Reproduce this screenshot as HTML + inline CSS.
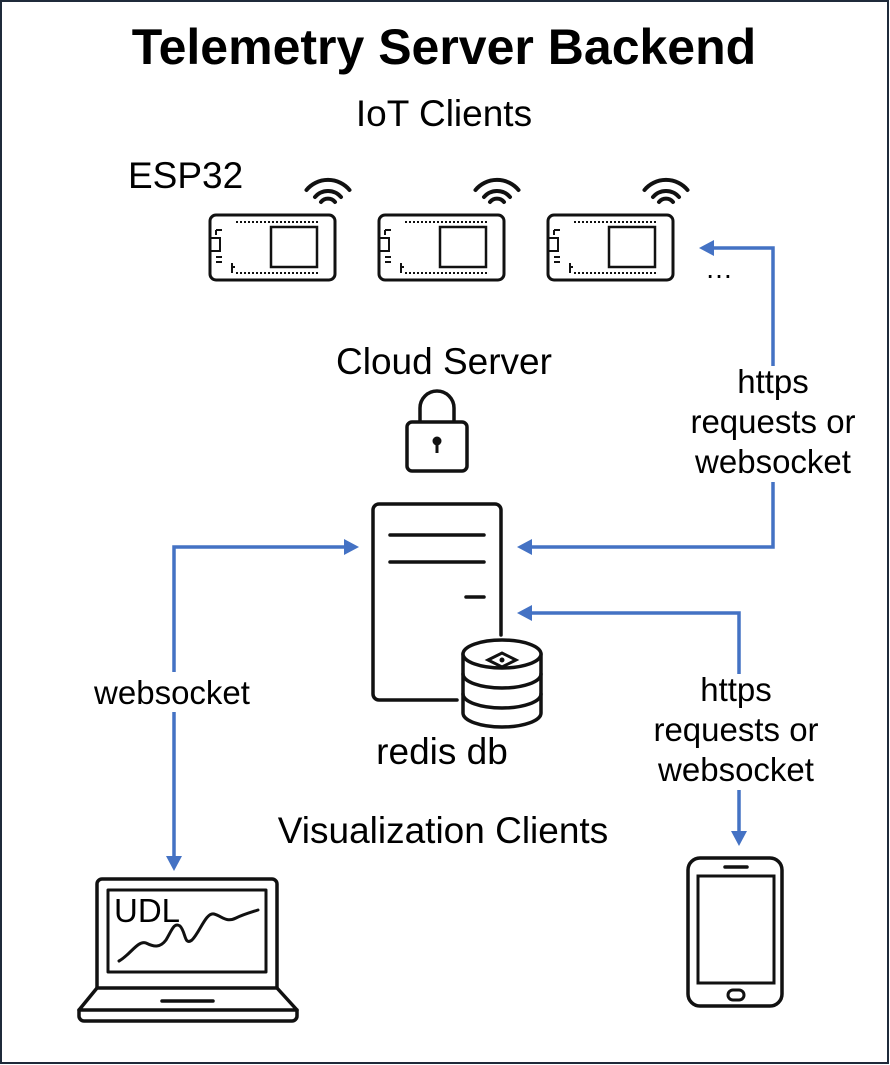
<!DOCTYPE html>
<html><head><style>
html,body{margin:0;padding:0;background:#fff;}
svg{display:block;}
text{font-family:"Liberation Sans",Arial,sans-serif;fill:#000;}
</style></head><body>
<svg width="890" height="1065" viewBox="0 0 890 1065" xmlns="http://www.w3.org/2000/svg">
<rect x="1" y="1" width="887" height="1062" fill="#fff" stroke="#1f2a3a" stroke-width="2"/>
<text x="444" y="64" font-size="50" font-weight="bold" text-anchor="middle">Telemetry Server Backend</text>
<text x="444" y="126" font-size="37" text-anchor="middle">IoT Clients</text>
<text x="128" y="188" font-size="37">ESP32</text>

<defs>
<g id="board" fill="none" stroke="#111" stroke-width="3">
<rect x="0" y="0" width="125" height="65" rx="6"/>
<rect x="61" y="12" width="46" height="40" stroke-width="2.5"/>
<line x1="26" y1="7" x2="108" y2="7" stroke-width="2" stroke-dasharray="2,2"/>
<line x1="26" y1="58" x2="108" y2="58" stroke-width="2" stroke-dasharray="2,2"/>
<rect x="0" y="23" width="10" height="13" stroke-width="2"/>
<path d="M6 15 h6 M6 15 v5 M6 42 h6 M6 47 h6" stroke-width="2"/>
<path d="M22 48 v10 M22 52 h3" stroke-width="2"/>
<g transform="translate(118,-7)" stroke-width="4" stroke-linecap="round">
<path d="M-21.5 -18 A28 28 0 0 1 21.5 -18"/>
<path d="M-13 -11 A17 17 0 0 1 13 -11"/>
<path d="M-7 -6 A9 9 0 0 1 7 -6"/>
</g>
</g>
</defs>
<use href="#board" x="210" y="215"/>
<use href="#board" x="379" y="215"/>
<use href="#board" x="548" y="215"/>
<text x="705" y="278" font-size="28">…</text>

<text x="444" y="374" font-size="37" text-anchor="middle">Cloud Server</text>
<!-- lock -->
<g fill="none" stroke="#111" stroke-width="3.5">
<path d="M420 422 V408 A17 17 0 0 1 454 408 V422"/>
<rect x="407" y="422" width="60" height="49" rx="5"/>
</g>
<circle cx="437" cy="441" r="4.5" fill="#111"/>
<rect x="435.5" y="441" width="3" height="12" fill="#111"/>

<!-- server -->
<g fill="none" stroke="#111" stroke-width="3.5" stroke-linecap="round">
<path d="M457 700 H379 a6 6 0 0 1 -6 -6 V510 a6 6 0 0 1 6 -6 H495 a6 6 0 0 1 6 6 V635"/>
<line x1="390" y1="535" x2="484" y2="535"/>
<line x1="390" y1="562" x2="484" y2="562"/>
<line x1="466" y1="597" x2="484" y2="597"/>
<path d="M463 654 V713 A39 14 0 0 0 541 713 V654"/>
<ellipse cx="502" cy="654" rx="39" ry="14" fill="#fff"/>
<path d="M463 674 A39 14 0 0 0 541 674"/>
<path d="M463 694 A39 14 0 0 0 541 694"/>
<path d="M488 660 L502 653 L516 660 L502 667 Z" stroke-width="3"/>
</g>
<circle cx="502" cy="660" r="2.5" fill="#111"/>
<text x="442" y="764" font-size="37" text-anchor="middle">redis db</text>

<!-- arrows -->
<g fill="none" stroke="#4472C4" stroke-width="3.5">
<path d="M712 248 H773 V547 H530"/>
<path d="M530 613 H739 V832"/>
<path d="M346 547 H174 V857"/>
</g>
<g fill="#4472C4">
<polygon points="699,248 714,240 714,256"/>
<polygon points="517,547 532,539 532,555"/>
<polygon points="517,613 532,605 532,621"/>
<polygon points="359,547 344,539 344,555"/>
<polygon points="739,846 731,831 747,831"/>
<polygon points="174,871 166,856 182,856"/>
</g>
<rect x="686" y="366" width="176" height="116" fill="#fff"/>
<text x="773" y="393" font-size="33" text-anchor="middle">https</text>
<text x="773" y="433" font-size="33" text-anchor="middle">requests or</text>
<text x="773" y="473" font-size="33" text-anchor="middle">websocket</text>
<rect x="648" y="674" width="178" height="116" fill="#fff"/>
<text x="736" y="701" font-size="33" text-anchor="middle">https</text>
<text x="736" y="741" font-size="33" text-anchor="middle">requests or</text>
<text x="736" y="781" font-size="33" text-anchor="middle">websocket</text>
<rect x="88" y="672" width="170" height="40" fill="#fff"/>
<text x="172" y="704" font-size="33" text-anchor="middle">websocket</text>

<text x="443" y="843" font-size="37" text-anchor="middle">Visualization Clients</text>

<!-- laptop -->
<g fill="none" stroke="#111" stroke-width="3.5" stroke-linejoin="round" stroke-linecap="round">
<path d="M97 988 V884 a5 5 0 0 1 5 -5 H272 a5 5 0 0 1 5 5 V988"/>
<rect x="108" y="890" width="158" height="82" stroke-width="3"/>
<path d="M97 988 L79 1010 H297 L277 988 Z"/>
<path d="M79 1010 V1016 a5 5 0 0 0 5 5 H292 a5 5 0 0 0 5 -5 V1010"/>
<line x1="162" y1="1001" x2="213" y2="1001"/>
<path d="M119 961 C130 955 138 940 146 943 C154 947 160 948 166 940 C172 930 174 922 180 926 C186 932 184 946 192 940 C200 932 206 912 214 914 C222 916 226 923 236 918 C244 914 252 912 258 910" stroke-width="3"/>
</g>
<text x="114" y="922" font-size="33">UDL</text>

<!-- phone -->
<g fill="none" stroke="#111" stroke-width="3.5">
<rect x="688" y="858" width="94" height="148" rx="12"/>
<rect x="698" y="876" width="76" height="107" stroke-width="3"/>
<line x1="725" y1="867" x2="747" y2="867" stroke-linecap="round"/>
<rect x="728" y="990" width="16" height="10" rx="5" stroke-width="3"/>
</g>
</svg>
</body></html>
